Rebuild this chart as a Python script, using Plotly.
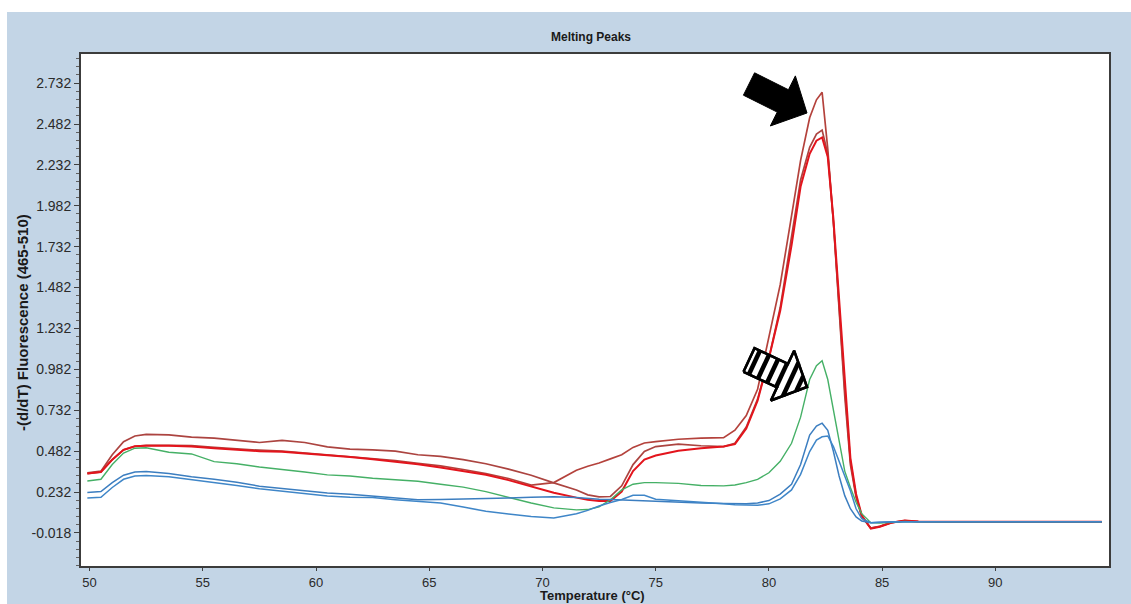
import numpy as np
import plotly.graph_objects as go

# Melting-curve derivative data, -(d/dT) fluorescence at 465-510 nm
temperature = [49.9, 50.5, 51.0, 51.5, 52.0, 52.5, 53.5, 54.5, 55.5, 56.5,
               57.5, 58.5, 59.5, 60.5, 61.5, 62.5, 63.5, 64.5, 65.5, 66.5,
               67.5, 68.5, 69.5, 70.5, 71.5, 72.0, 72.5, 73.0, 73.5, 74.0,
               74.5, 75.0, 76.0, 77.0, 78.0, 78.5, 79.0, 79.5, 80.0, 80.5,
               81.0, 81.4, 81.8, 82.1, 82.35, 82.6, 82.85, 83.1, 83.35, 83.6,
               83.85, 84.1, 84.5, 84.9, 85.4, 86.0, 86.6, 88.0, 90.0, 92.0, 94.7]

red_a = [0.345, 0.355, 0.43, 0.49, 0.512, 0.518, 0.518, 0.516, 0.505, 0.495,
         0.488, 0.482, 0.470, 0.462, 0.450, 0.438, 0.425, 0.408, 0.392, 0.370,
         0.345, 0.315, 0.275, 0.290, 0.365, 0.390, 0.410, 0.435, 0.460, 0.505,
         0.532, 0.540, 0.555, 0.562, 0.565, 0.610, 0.700, 0.860, 1.180, 1.500,
         1.920, 2.260, 2.520, 2.630, 2.676, 2.330, 1.880, 1.320, 0.820, 0.400,
         0.200, 0.080, 0.012, 0.022, 0.045, 0.055, 0.052, 0.050, 0.050, 0.050, 0.050]

red_b = [0.350, 0.360, 0.46, 0.54, 0.575, 0.585, 0.582, 0.568, 0.562, 0.548,
         0.535, 0.548, 0.535, 0.508, 0.495, 0.490, 0.482, 0.460, 0.450, 0.430,
         0.405, 0.372, 0.335, 0.288, 0.245, 0.215, 0.203, 0.205, 0.270, 0.400,
         0.480, 0.510, 0.525, 0.515, 0.510, 0.530, 0.630, 0.800, 1.050, 1.360,
         1.780, 2.140, 2.340, 2.420, 2.445, 2.300, 1.880, 1.360, 0.860, 0.420,
         0.210, 0.085, 0.012, 0.022, 0.045, 0.058, 0.052, 0.050, 0.050, 0.050, 0.050]

red_c = [0.345, 0.355, 0.43, 0.49, 0.512, 0.515, 0.515, 0.510, 0.500, 0.490,
         0.482, 0.478, 0.468, 0.458, 0.446, 0.432, 0.418, 0.402, 0.382, 0.362,
         0.338, 0.305, 0.268, 0.228, 0.198, 0.185, 0.178, 0.178, 0.235, 0.360,
         0.430, 0.455, 0.485, 0.500, 0.510, 0.525, 0.620, 0.790, 1.050, 1.340,
         1.740, 2.100, 2.300, 2.380, 2.400, 2.280, 1.900, 1.400, 0.880, 0.440,
         0.220, 0.090, 0.008, 0.020, 0.044, 0.058, 0.052, 0.050, 0.050, 0.050, 0.050]

green = [0.300, 0.310, 0.40, 0.47, 0.500, 0.503, 0.475, 0.465, 0.418, 0.405,
         0.385, 0.372, 0.355, 0.337, 0.330, 0.316, 0.305, 0.298, 0.280, 0.262,
         0.235, 0.200, 0.165, 0.135, 0.123, 0.125, 0.142, 0.185, 0.245, 0.280,
         0.290, 0.290, 0.285, 0.272, 0.270, 0.275, 0.290, 0.310, 0.350, 0.420,
         0.530, 0.690, 0.920, 1.005, 1.035, 0.920, 0.740, 0.550, 0.360, 0.260,
         0.170, 0.100, 0.045, 0.042, 0.048, 0.052, 0.050, 0.050, 0.050, 0.050, 0.050]

blue_a = [0.230, 0.235, 0.29, 0.335, 0.355, 0.358, 0.345, 0.325, 0.310, 0.292,
          0.268, 0.255, 0.240, 0.226, 0.218, 0.207, 0.195, 0.185, 0.186, 0.188,
          0.192, 0.196, 0.200, 0.203, 0.198, 0.192, 0.188, 0.186, 0.183, 0.180,
          0.178, 0.175, 0.170, 0.165, 0.162, 0.160, 0.160, 0.165, 0.180, 0.220,
          0.280, 0.400, 0.580, 0.635, 0.653, 0.610, 0.480, 0.330, 0.210, 0.130,
          0.080, 0.055, 0.045, 0.048, 0.050, 0.050, 0.050, 0.050, 0.050, 0.050, 0.050]

blue_b = [0.195, 0.200, 0.26, 0.31, 0.330, 0.333, 0.325, 0.308, 0.290, 0.272,
          0.252, 0.238, 0.222, 0.208, 0.200, 0.198, 0.185, 0.175, 0.165, 0.140,
          0.115, 0.098, 0.082, 0.073, 0.100, 0.120, 0.147, 0.168, 0.187, 0.212,
          0.212, 0.188, 0.180, 0.168, 0.160, 0.155, 0.152, 0.152, 0.160, 0.190,
          0.245, 0.340, 0.480, 0.550, 0.570, 0.575, 0.510, 0.420, 0.340, 0.240,
          0.130, 0.070, 0.045, 0.048, 0.050, 0.050, 0.050, 0.050, 0.050, 0.050, 0.050]

x_ticks = [50, 55, 60, 65, 70, 75, 80, 85, 90]
y_tick_labels = ["-0.018", "0.232", "0.482", "0.732", "0.982", "1.232", "1.482",
                 "1.732", "1.982", "2.232", "2.482", "2.732"]

# ---- page geometry (pixels) ----
W, H = 1131, 604
L, R, T, B = 81, 1109, 54, 566


def px_x(px):
    return (px - L) / (R - L)


def px_y(py):
    return (B - py) / (B - T)


series = [
    (red_a, "#B4423C", 1.7),
    (red_b, "#AC4440", 1.7),
    (red_c, "#E3141C", 2.0),
    (green, "#45B066", 1.4),
    (blue_a, "#3C7EC0", 1.5),
    (blue_b, "#3F86C8", 1.5),
]

fig = go.Figure()
for vals, col, w in series:
    fig.add_trace(go.Scatter(x=temperature, y=vals, mode="lines",
                             line=dict(color=col, width=w),
                             hoverinfo="skip", showlegend=False))


# ---- arrows, drawn on a pixel overlay ----
def arrow_outline(tail, tip, shaft_w, head_w, head_len):
    tail = np.array(tail, float)
    tip = np.array(tip, float)
    u = (tip - tail) / np.linalg.norm(tip - tail)
    n = np.array([-u[1], u[0]])
    base = tip - u * head_len
    pts = [tail + n * shaft_w / 2, base + n * shaft_w / 2, base + n * head_w / 2,
           tip, base - n * head_w / 2, base - n * shaft_w / 2, tail - n * shaft_w / 2,
           tail + n * shaft_w / 2]
    return [p[0] for p in pts], [p[1] for p in pts]


def arrow_stripes(tail, tip, shaft_w, head_w, head_len, start, step):
    tail = np.array(tail, float)
    tip = np.array(tip, float)
    length = np.linalg.norm(tip - tail)
    u = (tip - tail) / length
    n = np.array([-u[1], u[0]])
    xs, ys = [], []
    s = start
    while s < length - 4:
        if s <= length - head_len:
            hw = shaft_w / 2
        else:
            hw = head_w / 2 * (length - s) / head_len
        c = tail + u * s
        p0, p1 = c + n * hw, c - n * hw
        xs += [p0[0], p1[0], None]
        ys += [p0[1], p1[1], None]
        s += step
    return xs, ys


solid_x, solid_y = arrow_outline((749, 84), (807, 113), 25, 56, 27)
fig.add_trace(go.Scatter(x=solid_x, y=solid_y, xaxis="x2", yaxis="y2", mode="lines",
                         fill="toself", fillcolor="black",
                         line=dict(color="black", width=1),
                         hoverinfo="skip", showlegend=False))

hat_tail, hat_tip = (749, 360), (807, 387)
hx, hy = arrow_outline(hat_tail, hat_tip, 26, 55, 27)
fig.add_trace(go.Scatter(x=hx, y=hy, xaxis="x2", yaxis="y2", mode="lines",
                         fill="toself", fillcolor="white",
                         line=dict(color="black", width=2.5),
                         hoverinfo="skip", showlegend=False))
sx, sy = arrow_stripes(hat_tail, hat_tip, 26, 55, 27, 6, 10)
fig.add_trace(go.Scatter(x=sx, y=sy, xaxis="x2", yaxis="y2", mode="lines",
                         line=dict(color="black", width=4.5),
                         hoverinfo="skip", showlegend=False))
fig.add_trace(go.Scatter(x=hx, y=hy, xaxis="x2", yaxis="y2", mode="lines",
                         line=dict(color="black", width=2.5),
                         hoverinfo="skip", showlegend=False))

regular = "Liberation Sans, Arial, sans-serif"

fig.update_layout(
    width=W, height=H, autosize=False,
    margin=dict(l=L, r=W - R, t=T, b=H - B, pad=0),
    paper_bgcolor="#C3D5E6",
    plot_bgcolor="#FFFFFF",
    showlegend=False,
    xaxis=dict(
        range=[49.62, 95.02], tickmode="array", tickvals=x_ticks,
        ticks="outside", ticklen=3, tickcolor="#404040", tickwidth=1,
        tickfont=dict(family=regular, size=13, color="#2a2a2a"),
        showline=True, linecolor="#3c3c3c", linewidth=2, mirror=True,
        showgrid=False, zeroline=False,
    ),
    yaxis=dict(
        range=[-0.22, 2.91], tickmode="array",
        tickvals=[float(s) for s in y_tick_labels], ticktext=y_tick_labels,
        ticks="outside", ticklen=5, tickcolor="#404040", tickwidth=1,
        tickfont=dict(family=regular, size=14, color="#2a2a2a"),
        minor=dict(ticks="outside", ticklen=3, tickcolor="#606060",
                   tickmode="linear", tick0=-0.018, dtick=0.05),
        showline=True, linecolor="#3c3c3c", linewidth=2, mirror=True,
        showgrid=False, zeroline=False,
    ),
    xaxis2=dict(overlaying="x", anchor="y2", range=[L, R], visible=False,
                fixedrange=True),
    yaxis2=dict(overlaying="y", anchor="x2", range=[B, T], visible=False,
                fixedrange=True),
    shapes=[
        dict(type="rect", xref="paper", yref="paper", layer="below",
             x0=px_x(0), x1=px_x(W), y0=px_y(12), y1=px_y(0),
             fillcolor="white", line=dict(width=0)),
        dict(type="rect", xref="paper", yref="paper", layer="below",
             x0=px_x(0), x1=px_x(7), y0=px_y(H), y1=px_y(0),
             fillcolor="white", line=dict(width=0)),
    ],
    annotations=[
        dict(text="<b>Melting Peaks</b>", xref="paper", yref="paper",
             x=px_x(591), y=px_y(37), xanchor="center", yanchor="middle",
             showarrow=False,
             font=dict(family=regular, size=12, color="#1a1a1a")),
        dict(text="<b>Temperature (°C)</b>", xref="paper", yref="paper",
             x=px_x(592), y=px_y(595), xanchor="center", yanchor="middle",
             showarrow=False,
             font=dict(family=regular, size=13, color="#1a1a1a")),
        dict(text="<b>-(d/dT) Fluorescence (465-510)</b>", xref="paper", yref="paper",
             x=px_x(22), y=px_y(323), xanchor="center", yanchor="middle",
             showarrow=False, textangle=-90,
             font=dict(family=regular, size=15, color="#1a1a1a")),
    ],
)

fig.write_html("out.html")
